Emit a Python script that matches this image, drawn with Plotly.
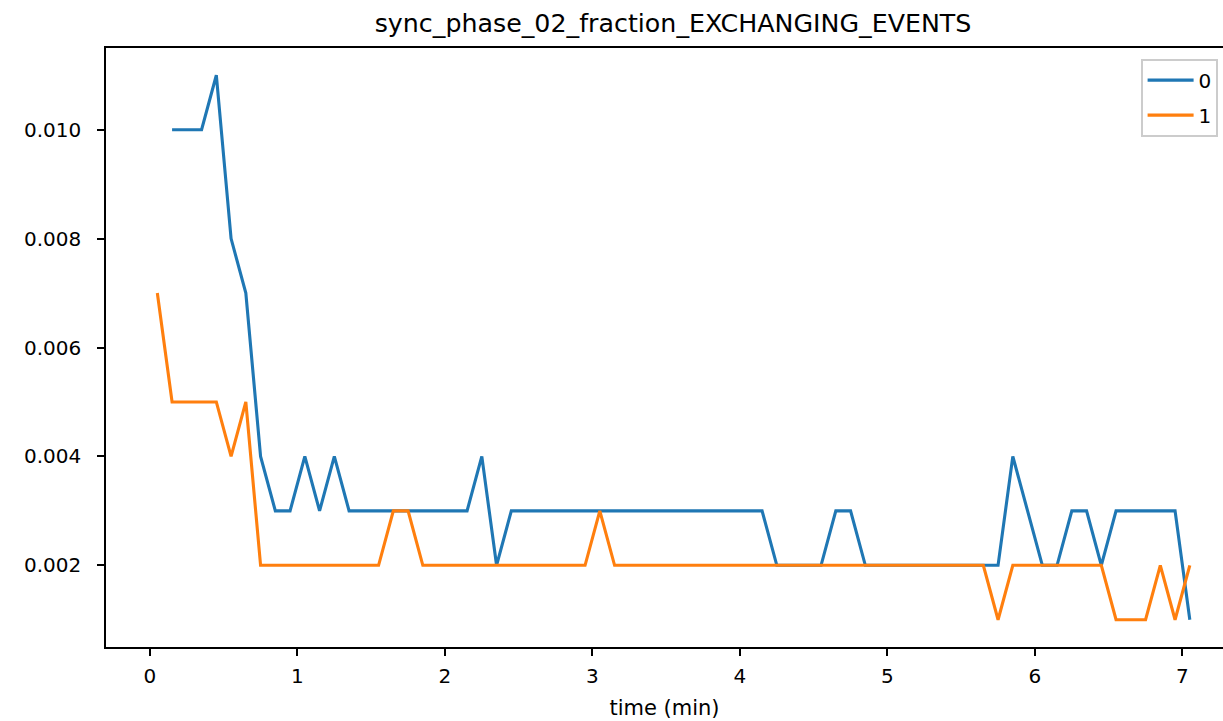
import plotly.graph_objects as go

# ---- data ----
time_0 = [0.15, 0.25, 0.35, 0.45, 0.55, 0.65, 0.75, 0.85, 0.95, 1.05,
          1.15, 1.25, 1.35, 1.45, 1.55, 1.65, 1.75, 1.85, 1.95, 2.05,
          2.15, 2.25, 2.35, 2.45, 2.55, 2.65, 2.75, 2.85, 2.95, 3.05,
          3.15, 3.25, 3.35, 3.45, 3.55, 3.65, 3.75, 3.85, 3.95, 4.05,
          4.15, 4.25, 4.35, 4.45, 4.55, 4.65, 4.75, 4.85, 4.95, 5.05,
          5.15, 5.25, 5.35, 5.45, 5.55, 5.65, 5.75, 5.85, 5.95, 6.05,
          6.15, 6.25, 6.35, 6.45, 6.55, 6.65, 6.75, 6.85, 6.95, 7.05]
series_0 = [0.010, 0.010, 0.010, 0.011, 0.008, 0.007, 0.004, 0.003, 0.003, 0.004,
            0.003, 0.004, 0.003, 0.003, 0.003, 0.003, 0.003, 0.003, 0.003, 0.003,
            0.003, 0.004, 0.002, 0.003, 0.003, 0.003, 0.003, 0.003, 0.003, 0.003,
            0.003, 0.003, 0.003, 0.003, 0.003, 0.003, 0.003, 0.003, 0.003, 0.003,
            0.003, 0.002, 0.002, 0.002, 0.002, 0.003, 0.003, 0.002, 0.002, 0.002,
            0.002, 0.002, 0.002, 0.002, 0.002, 0.002, 0.002, 0.004, 0.003, 0.002,
            0.002, 0.003, 0.003, 0.002, 0.003, 0.003, 0.003, 0.003, 0.003, 0.001]

time_1 = [0.05, 0.15, 0.25, 0.35, 0.45, 0.55, 0.65, 0.75, 0.85, 0.95, 1.05,
          1.15, 1.25, 1.35, 1.45, 1.55, 1.65, 1.75, 1.85, 1.95, 2.05,
          2.15, 2.25, 2.35, 2.45, 2.55, 2.65, 2.75, 2.85, 2.95, 3.05,
          3.15, 3.25, 3.35, 3.45, 3.55, 3.65, 3.75, 3.85, 3.95, 4.05,
          4.15, 4.25, 4.35, 4.45, 4.55, 4.65, 4.75, 4.85, 4.95, 5.05,
          5.15, 5.25, 5.35, 5.45, 5.55, 5.65, 5.75, 5.85, 5.95, 6.05,
          6.15, 6.25, 6.35, 6.45, 6.55, 6.65, 6.75, 6.85, 6.95, 7.05]
series_1 = [0.007, 0.005, 0.005, 0.005, 0.005, 0.004, 0.005, 0.002, 0.002, 0.002, 0.002,
            0.002, 0.002, 0.002, 0.002, 0.002, 0.003, 0.003, 0.002, 0.002, 0.002,
            0.002, 0.002, 0.002, 0.002, 0.002, 0.002, 0.002, 0.002, 0.002, 0.003,
            0.002, 0.002, 0.002, 0.002, 0.002, 0.002, 0.002, 0.002, 0.002, 0.002,
            0.002, 0.002, 0.002, 0.002, 0.002, 0.002, 0.002, 0.002, 0.002, 0.002,
            0.002, 0.002, 0.002, 0.002, 0.002, 0.002, 0.001, 0.002, 0.002, 0.002,
            0.002, 0.002, 0.002, 0.002, 0.001, 0.001, 0.001, 0.002, 0.001, 0.002]

x_ticks = [0, 1, 2, 3, 4, 5, 6, 7]
y_ticks = [0.002, 0.004, 0.006, 0.008, 0.010]
title_text = "sync_phase_02_fraction_EXCHANGING_EVENTS"
x_label = "time (min)"

FONT = "DejaVu Sans"

W, H = 1223, 721
ML, MT, MR = 106, 48, 0
MB = H - 647
PW, PH = W - ML - MR, 647 - MT

fig = go.Figure()
fig.add_trace(go.Scatter(x=time_0, y=series_0, mode="lines", name="0", legendgroup="0",
                         line=dict(color="#1f77b4", width=3.1)))
fig.add_trace(go.Scatter(x=time_1, y=series_1, mode="lines", name="1", legendgroup="1",
                         line=dict(color="#ff7f0e", width=3.1)))

fig.update_layout(
    width=W, height=H,
    margin=dict(l=ML, r=MR, t=MT, b=MB, pad=0, autoexpand=False),
    paper_bgcolor="white", plot_bgcolor="white",
    font=dict(family=FONT, size=20, color="black"),
    title=dict(text=title_text, x=673 / W, xanchor="center",
               y=1 - 23 / H, yanchor="middle", yref="container", xref="container",
               font=dict(family=FONT, size=25.3, color="black")),
    showlegend=True,
    legend=dict(x=(1141 - ML) / PW, y=1 - 11 / PH, xanchor="left", yanchor="top",
                bgcolor="rgba(255,255,255,0.8)", bordercolor="#cccccc", borderwidth=1.6,
                font=dict(family=FONT, size=20, color="black"),
                traceorder="grouped", tracegroupgap=6, itemwidth=46),
    xaxis=dict(range=[-0.298, 7.275], tickvals=x_ticks, ticktext=[str(t) for t in x_ticks],
               showgrid=False, zeroline=False, showline=True, linecolor="black",
               linewidth=1.6, mirror=True, ticks="outside", ticklen=7, tickwidth=1.6,
               tickcolor="black", tickfont=dict(size=20), ticklabelstandoff=3,
               title=dict(text=x_label, font=dict(family=FONT, size=21), standoff=14)),
    yaxis=dict(range=[0.0005, 0.0115], tickvals=y_ticks, tickformat=".3f",
               showgrid=False, zeroline=False, showline=True, linecolor="black",
               linewidth=1.6, mirror=False, ticks="outside", ticklen=7, tickwidth=1.6,
               tickcolor="black", tickfont=dict(size=20), ticklabelstandoff=12),
)

fig.write_html(
    "out.html",
    config={"displayModeBar": False},
    post_script="document.body.style.margin='0';document.body.style.overflow='hidden';",
)
